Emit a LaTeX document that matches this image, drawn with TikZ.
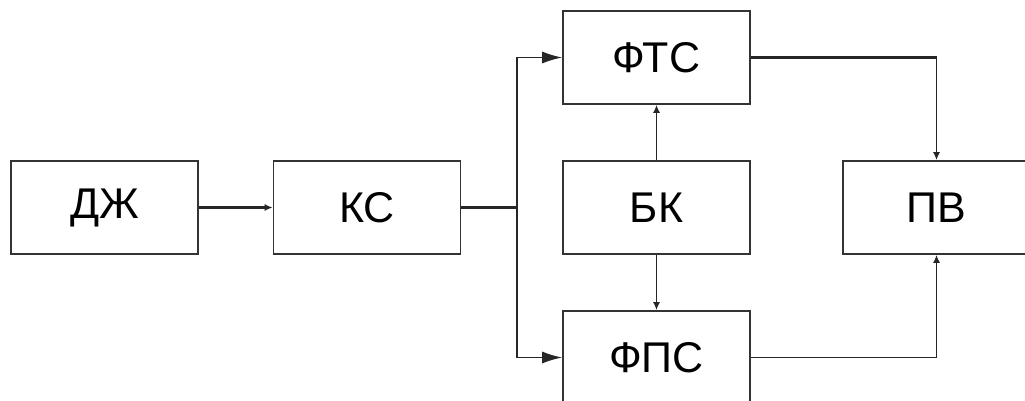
\documentclass[tikz,border=0pt]{standalone}
\usepackage{fontspec}
\setmainfont{Liberation Sans}
\usetikzlibrary{arrows.meta}
\begin{document}
\begin{tikzpicture}[x=1pt,y=-1pt,
  blk/.style={draw=black!80,line width=1.6pt,minimum width=187pt,minimum height=93pt,inner sep=0pt,
    font=\fontsize{43}{43}\selectfont},
  conn/.style={line width=1.6pt,draw=black!85},
  bigarr/.style={conn,-{Latex[length=20pt,width=12pt]}},
  smallarr/.style={conn,-{Latex[length=8pt,width=7pt]}}]
\useasboundingbox (0,0) rectangle (1025,401);
\clip (0,0) rectangle (1025,401);
\node[blk] (dzh) at (104.5,207.5) {ДЖ};
\node[blk] (ks) at (367,207.5) {КС};
\node[blk] (fts) at (656.5,57.5) {ФТС};
\node[blk] (bk) at (656.5,207.5) {БК};
\node[blk] (fps) at (656.5,357.5) {ФПС};
\node[blk] (pv) at (936.5,207.5) {ПВ};
\coordinate (br) at (517,207.5);
\coordinate (tc) at (pv.north |- fts.east);
\draw[smallarr,line width=2.6pt] (dzh.east) -- (ks.west);
\draw[conn,line width=2.4pt] (ks.east) -- (br);
\draw[bigarr] (br) |- (fts.west);
\draw[bigarr] (br) |- (fps.west);
\draw[smallarr] (bk.north) -- (fts.south);
\draw[smallarr] (bk.south) -- (fps.north);
\draw[conn,line width=2.4pt] (fts.east) -- (tc);
\draw[smallarr] (tc) -- (pv.north);
\draw[smallarr] (fps.east) -| (pv.south);
\end{tikzpicture}
\end{document}
